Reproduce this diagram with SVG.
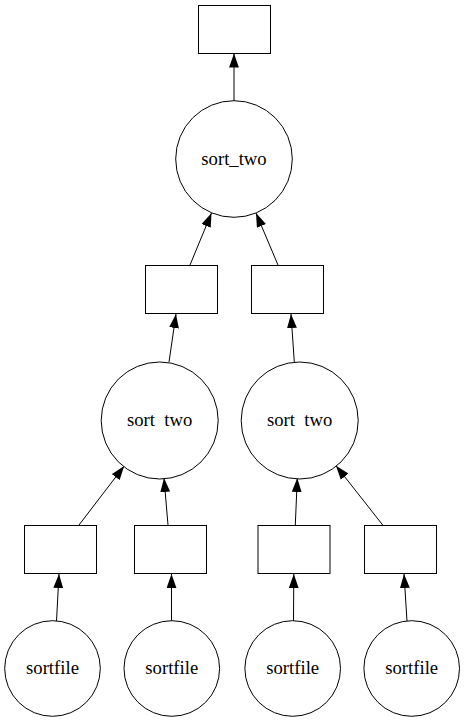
<svg xmlns="http://www.w3.org/2000/svg" width="465" height="722" viewBox="0 0 465 722">
  <style>
    .node rect, .node circle { fill: #ffffff; stroke: #000000; stroke-width: 1; }
    .node text { font-family: "Liberation Serif", "Times New Roman", serif; font-size: 18.67px; text-anchor: middle; fill: #000000; }
    .edges line { stroke: #000000; stroke-width: 1; marker-end: url(#arrow); }
    .gap { word-spacing: 4.7px; }
  </style>
  <defs>
    <marker id="arrow" markerUnits="userSpaceOnUse" markerWidth="14" markerHeight="10" refX="13.3" refY="4.67" orient="auto" viewBox="0 0 13.3 9.34">
      <path d="M0,0 L13.3,4.67 L0,9.34 Z" fill="#000000"/>
    </marker>
  </defs>
  <rect width="465" height="722" fill="#ffffff"/>

  <g class="edges">
    <!-- leaves to first boxes -->
    <line x1="56.5" y1="621" x2="59" y2="574"/>
    <line x1="171.5" y1="621" x2="171.5" y2="574"/>
    <line x1="293.5" y1="621" x2="293.8" y2="574"/>
    <line x1="407" y1="621" x2="404" y2="574"/>
    <!-- first boxes to middle merges -->
    <line x1="79" y1="525" x2="124.2" y2="466"/>
    <line x1="168" y1="525" x2="164" y2="478"/>
    <line x1="295.3" y1="525" x2="297.3" y2="478"/>
    <line x1="382.7" y1="525" x2="336" y2="465.7"/>
    <!-- middle merges to their boxes -->
    <line x1="169" y1="362" x2="176" y2="314"/>
    <line x1="294.3" y1="362" x2="291" y2="314"/>
    <!-- middle boxes to final merge -->
    <line x1="190" y1="265" x2="211.5" y2="213"/>
    <line x1="278" y1="265" x2="256" y2="213"/>
    <!-- final merge to result -->
    <line x1="234" y1="101" x2="234" y2="53.5"/>
  </g>

  <g id="result" class="node"><rect x="198.5" y="5.5" width="72" height="48"/></g>
  <g id="sort_two_final" class="node">
    <circle cx="234" cy="159" r="58.3"/>
    <text x="234" y="164.5">sort_two</text>
  </g>
  <g id="box_left" class="node"><rect x="145.5" y="265.5" width="72" height="48"/></g>
  <g id="box_right" class="node"><rect x="251.5" y="265.5" width="72" height="48"/></g>
  <g id="sort_two_left" class="node">
    <circle cx="159.7" cy="420.5" r="58.5"/>
    <text class="gap" x="159.7" y="425.5">sort two</text>
  </g>
  <g id="sort_two_right" class="node">
    <circle cx="299.7" cy="420.5" r="58.5"/>
    <text class="gap" x="299.7" y="425.5">sort two</text>
  </g>
  <g id="box_1" class="node"><rect x="24.5" y="525.5" width="72" height="48"/></g>
  <g id="box_2" class="node"><rect x="134.5" y="525.5" width="72" height="48"/></g>
  <g id="box_3" class="node"><rect x="258" y="525.5" width="72" height="48"/></g>
  <g id="box_4" class="node"><rect x="364.5" y="525.5" width="72" height="48"/></g>
  <g id="sortfile_1" class="node">
    <circle cx="52.5" cy="668.5" r="47.8"/>
    <text x="52.5" y="673.5">sortfile</text>
  </g>
  <g id="sortfile_2" class="node">
    <circle cx="171.8" cy="668.5" r="47.8"/>
    <text x="171.8" y="673.5">sortfile</text>
  </g>
  <g id="sortfile_3" class="node">
    <circle cx="292.7" cy="668.5" r="47.8"/>
    <text x="292.7" y="673.5">sortfile</text>
  </g>
  <g id="sortfile_4" class="node">
    <circle cx="411.7" cy="668.5" r="47.8"/>
    <text x="411.7" y="673.5">sortfile</text>
  </g>
</svg>
